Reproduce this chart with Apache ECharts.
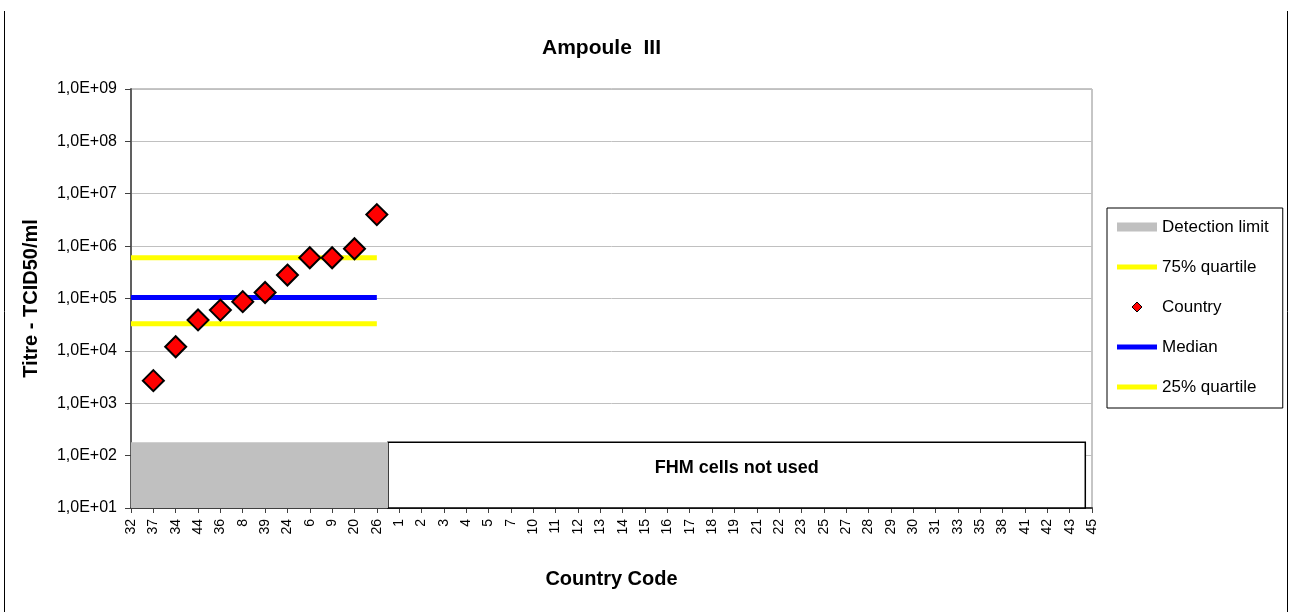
<!DOCTYPE html>
<html>
<head>
<meta charset="utf-8">
<title>Ampoule III</title>
<script src="https://cdn.jsdelivr.net/npm/echarts@6/dist/echarts.min.js"></script>
<style>
  html, body { margin: 0; padding: 0; background: #fff; }
  #chart { width: 1290px; height: 612px; }
</style>
</head>
<body>
<div id="chart"></div>
<script>
// Country codes along the x axis, in plotting order
const categories = ['32','37','34','44','36','8','39','24','6','9','20','26',
  '1','2','3','4','5','7','10','11','12','13','14','15','16','17','18','19',
  '21','22','23','25','27','28','29','30','31','33','35','38','41','42','43','45'];

// Countries that reported a titre, and their titres (TCID50/ml)
const countryCodes = ['37','34','44','36','8','39','24','6','9','20','26'];
const titres = [2.7e3, 1.2e4, 3.9e4, 6.0e4, 8.7e4, 1.3e5, 2.8e5, 6.0e5, 6.0e5, 8.9e5, 4.0e6];

// Summary statistics
const quartile75 = 6.0e5;
const median = 1.05e5;
const quartile25 = 3.3e4;
const detectionLimit = 180;

// Y axis tick labels, one per decade from 1e1 to 1e9
const yTickLabels = ['1,0E+01','1,0E+02','1,0E+03','1,0E+04','1,0E+05',
  '1,0E+06','1,0E+07','1,0E+08','1,0E+09'];

const FONT = 'Liberation Sans, Arial, sans-serif';
const LINE_ICON = 'path://M0,0H40V5H0Z';
const DIAMOND_ICON = 'path://M5,0L10,5L5,10L0,5Z';

// Statistic lines run from the first category to the last tested country
const lastTested = categories.indexOf(countryCodes[countryCodes.length - 1]);
// Detection-limit band ends half-way to the first untested country
const bandEnd = categories.indexOf('1') - 0.5;
const boxEnd = categories.length - 1.3;

const chart = echarts.init(document.getElementById('chart'), null, { renderer: 'canvas' });

chart.setOption({
  backgroundColor: '#fff',
  animation: false,
  title: {
    text: 'Ampoule  III',
    left: 537,
    top: 33,
    textStyle: { fontFamily: FONT, fontSize: 21, fontWeight: 'bold', color: '#000' }
  },
  grid: {
    left: 131, right: 198, top: 89, bottom: 104,
    show: true, borderColor: '#8c8c8c', borderWidth: 1, backgroundColor: 'transparent'
  },
  legend: {
    orient: 'vertical',
    left: 1107, top: 208,
    padding: [10, 14, 12, 10],
    itemGap: 22,
    itemWidth: 40,
    itemHeight: 10,
    symbolKeepAspect: true,
    borderColor: '#000',
    borderWidth: 1,
    textStyle: { fontFamily: FONT, fontSize: 17, color: '#000', lineHeight: 18 },
    data: [
      { name: 'Detection limit', icon: 'path://M0,0H35V8H0Z' },
      { name: '75% quartile', icon: LINE_ICON },
      { name: 'Country', icon: DIAMOND_ICON, itemStyle: { borderWidth: 1 } },
      { name: 'Median', icon: LINE_ICON },
      { name: '25% quartile', icon: LINE_ICON }
    ]
  },
  xAxis: [
    {
      type: 'category',
      data: categories,
      boundaryGap: false,
      axisLine: { lineStyle: { color: '#404040', width: 2 } },
      axisTick: { show: true, inside: false, length: 5, alignWithLabel: true, interval: 0,
        lineStyle: { color: '#404040' } },
      axisLabel: { interval: 0, rotate: 90, margin: 11, fontFamily: FONT, fontSize: 14, color: '#000' },
      splitLine: { show: false },
      name: 'Country Code',
      nameLocation: 'middle',
      nameGap: 61,
      nameTextStyle: { fontFamily: FONT, fontSize: 20, fontWeight: 'bold', color: '#000' }
    },
    {
      type: 'value',
      min: 0,
      max: categories.length - 1,
      show: false
    }
  ],
  yAxis: {
    type: 'log',
    logBase: 10,
    min: 10,
    max: 1e9,
    interval: 1,
    axisLine: { show: true, lineStyle: { color: '#606060', width: 2 } },
    axisTick: { show: true, length: 6, lineStyle: { color: '#404040' } },
    axisLabel: {
      margin: 14,
      fontFamily: FONT, fontSize: 16, color: '#000',
      formatter: v => yTickLabels[Math.round(Math.log10(v)) - 1]
    },
    splitLine: { show: true, lineStyle: { color: '#c0c0c0', width: 1 } },
    name: 'Titre - TCID50/ml',
    nameLocation: 'middle',
    nameRotate: 90,
    nameGap: 90,
    nameTextStyle: { fontFamily: FONT, fontSize: 20, fontWeight: 'bold', color: '#000' }
  },
  series: [
    {
      name: 'Detection limit',
      type: 'line',
      xAxisIndex: 1,
      color: '#c0c0c0',
      symbol: 'none',
      lineStyle: { width: 0 },
      areaStyle: { color: '#c0c0c0', opacity: 1, origin: 'start' },
      data: [[0, detectionLimit], [bandEnd, detectionLimit]],
      z: 1,
      markArea: {
        silent: true,
        itemStyle: { color: '#fff', borderColor: '#000', borderWidth: 1.5 },
        label: {
          show: true, position: 'insideTop', distance: 18,
          fontFamily: FONT, fontSize: 18, fontWeight: 'bold', color: '#000'
        },
        data: [[
          { name: 'FHM cells not used', coord: [bandEnd, 10] },
          { coord: [boxEnd, detectionLimit] }
        ]]
      }
    },
    {
      name: '75% quartile',
      type: 'line',
      xAxisIndex: 1,
      color: '#ffff00',
      symbol: 'none',
      lineStyle: { color: '#ffff00', width: 5 },
      data: [[0, quartile75], [lastTested, quartile75]],
      z: 2
    },
    {
      name: 'Country',
      type: 'scatter',
      color: '#ff0000',
      symbol: 'diamond',
      symbolSize: 21,
      itemStyle: { color: '#ff0000', borderColor: '#000', borderWidth: 2, opacity: 1 },
      data: countryCodes.map((c, i) => [c, titres[i]]),
      z: 5
    },
    {
      name: 'Median',
      type: 'line',
      xAxisIndex: 1,
      color: '#0000ff',
      symbol: 'none',
      lineStyle: { color: '#0000ff', width: 5 },
      data: [[0, median], [lastTested, median]],
      z: 2
    },
    {
      name: '25% quartile',
      type: 'line',
      xAxisIndex: 1,
      color: '#ffff00',
      symbol: 'none',
      lineStyle: { color: '#ffff00', width: 5 },
      data: [[0, quartile25], [lastTested, quartile25]],
      z: 2
    }
  ],
  graphic: [
    { type: 'line', shape: { x1: 4.5, y1: 11, x2: 4.5, y2: 612 }, style: { stroke: '#000', lineWidth: 1 } },
    { type: 'line', shape: { x1: 1287.5, y1: 11, x2: 1287.5, y2: 612 }, style: { stroke: '#000', lineWidth: 1 } }
  ]
});
</script>
</body>
</html>
